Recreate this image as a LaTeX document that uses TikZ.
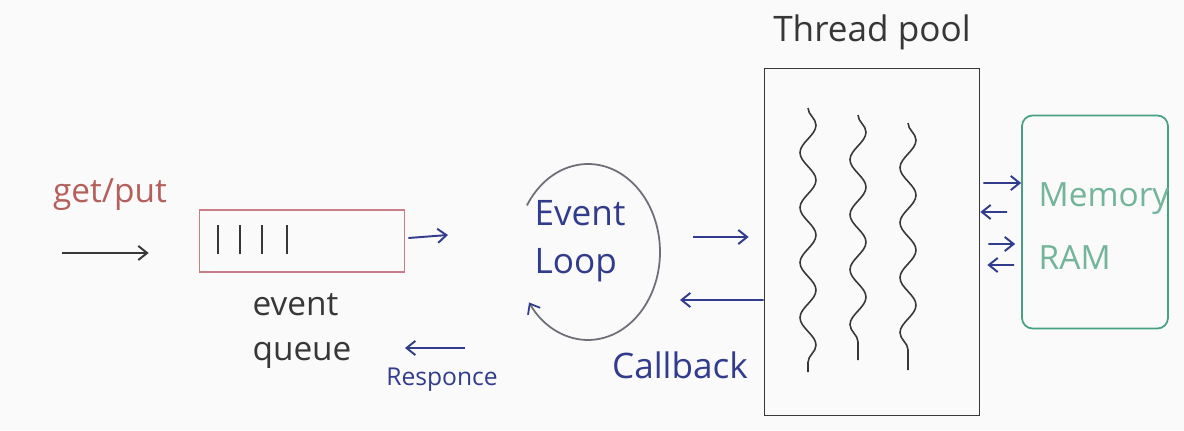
\documentclass[tikz,border=0pt]{standalone}
\usepackage{fontspec}
\setmainfont{Open Sans}
\usepackage{xcolor}
\usetikzlibrary{arrows.meta, positioning, decorations.pathmorphing}

\definecolor{board}{RGB}{250,250,250}
\definecolor{inkred}{RGB}{180,95,90}
\definecolor{inkpink}{RGB}{200,125,135}
\definecolor{inkblack}{RGB}{55,55,55}
\definecolor{inkblue}{RGB}{50,60,140}
\definecolor{inkgray}{RGB}{110,110,120}
\definecolor{inkgreen}{RGB}{70,160,130}
\definecolor{inkmint}{RGB}{115,180,155}

\begin{document}
\begin{tikzpicture}[
        x=0.02cm, y=0.02cm,
        hand/.style={inner sep=0pt, align=left, font=\fontsize{19}{26}\selectfont},
        smallhand/.style={inner sep=0pt, font=\fontsize{14}{16}\selectfont},
        box/.style={draw, line width=1pt},
        arr/.style={->, line width=1.1pt},
        wave/.style={inkblack, line width=0.9pt, decorate,
            decoration={snake, amplitude=0.16cm, segment length=1.1cm}},
        >={Straight Barb[length=5pt, width=8pt]}
    ]
        \useasboundingbox[fill=board] (0,0) rectangle (1184,430);

        % Queue
        \node[box, draw=inkpink, minimum width=4.1cm, minimum height=1.24cm] (queue) at (302,189) {};
        \foreach \bx in {218,240,262,287}
            \draw[inkblack, line width=1.1pt] (\bx,176) -- (\bx,205);
        \node[hand, text=inkblack, below=0.4cm of queue] (qlabel) {event\\queue};
        \node[hand, text=inkred] (getput) at (110,235) {get/put};

        % Event loop
        \coordinate (loopc) at (588,178);
        \node[hand, text=inkblue, font=\fontsize{20}{27}\selectfont] (loop) at (580,189) {Event\\Loop};
        \draw[inkgray, line width=1pt, -{Straight Barb[length=5pt, width=8pt, inkblue]}]
            (loopc) ++(148:1.44cm and 1.76cm)
            arc[start angle=148, end angle=-145, x radius=1.44cm, y radius=1.76cm];

        % Thread pool
        \node[box, draw=inkblack, minimum width=4.3cm, minimum height=6.94cm] (pool) at (872,188) {};
        \node[hand, text=inkblack, font=\fontsize{20}{22}\selectfont, above=0.35cm of pool] (pooltitle) {Thread pool};
        \draw[wave] (808,322) -- (808,58);
        \draw[wave] (858,315) -- (858,70);
        \draw[wave] (908,307) -- (908,60);

        % Memory
        \node[box, draw=inkgreen, rounded corners=6pt, minimum width=2.92cm, minimum height=4.26cm] (mem) at (1095,208) {};
        \node[hand, text=inkmint, font=\fontsize{19}{36}\selectfont] (memtext) at (1104,204) {Memory\\RAM};

        % Loose arrow ends
        \coordinate (inA) at (62,177);
        \coordinate (qA) at (448,195);
        \coordinate (toPoolA) at (693,193);
        \coordinate (backA) at (680,130);
        \coordinate (respA) at (465,82);
        \coordinate (respB) at (405,82);

        % Arrows
        \draw[arr, inkblack] (inA) -- ([xshift=-1cm, yshift=-0.24cm]queue.west);
        \draw[arr, inkblue] ([xshift=0.06cm, yshift=0.06cm]queue.east) -- (qA);
        \draw[arr, inkblue] (toPoolA) -- ([xshift=-0.3cm, yshift=0.1cm]pool.west);
        \draw[arr, inkblue] ([yshift=-1.16cm]pool.west) -- (backA);
        \draw[arr, inkblue] (respA) -- (respB);

        % Pool <-> memory
        \draw[arr, inkblue] ([xshift=0.06cm, yshift=1.18cm]pool.east) -- ([yshift=0.78cm]mem.west);
        \draw[arr, inkblue] ([xshift=-0.28cm, yshift=0.2cm]mem.west) -- ([yshift=0.6cm]pool.east);
        \draw[arr, inkblue] ([xshift=0.16cm, yshift=-0.04cm]pool.east) -- ([xshift=-0.12cm, yshift=-0.44cm]mem.west);
        \draw[arr, inkblue] ([xshift=-0.14cm, yshift=-0.86cm]mem.west) -- ([xshift=0.14cm, yshift=-0.46cm]pool.east);

        % Labels
        \node[hand, text=inkblue, font=\fontsize{20}{22}\selectfont] (callback) at (680,65) {Callback};
        \node[smallhand, text=inkblue] (resp) at (442,50) {Responce};
    \end{tikzpicture}
\end{document}
